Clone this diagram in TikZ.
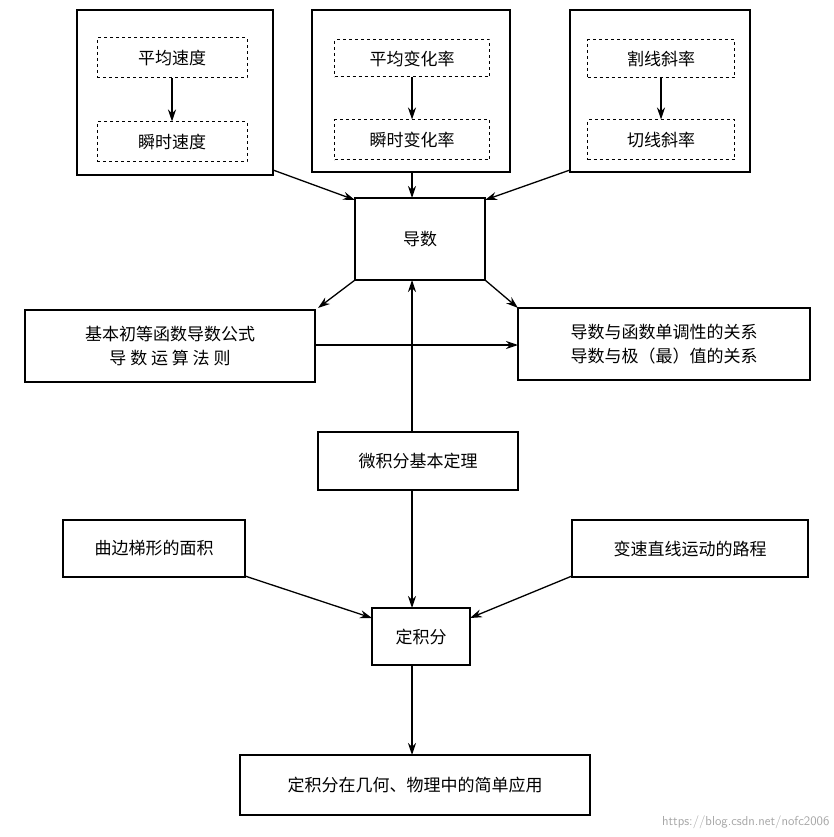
\documentclass[tikz,border=0pt]{standalone}
\usepackage{fontspec}
\newfontfamily\cjk{Noto Sans CJK SC}
\usetikzlibrary{arrows.meta}
\begin{document}
\begin{tikzpicture}[x=1pt,y=-1pt,
  bx/.style={draw,line width=1.3pt,font=\cjk\fontsize{17}{24}\selectfont,align=center,inner sep=0pt},
  dbx/.style={draw,dashed,line width=1pt,font=\cjk\fontsize{17}{22}\selectfont,inner sep=0pt},
  ar/.style={-{Stealth[length=12pt,width=8pt]},line width=1.3pt}]
\useasboundingbox[fill=white] (0,0) rectangle (833,837);
\node[bx,minimum width=196,minimum height=165] (o1) at (175,92.5) {};
\node[bx,minimum width=198,minimum height=162] (o2) at (411,91) {};
\node[bx,minimum width=180,minimum height=162] (o3) at (660,91) {};
\node[dbx,minimum width=150,minimum height=40] (a1) at (172,58) {平均速度};
\node[dbx,minimum width=150,minimum height=40] (b1) at (172,142) {瞬时速度};
\node[dbx,minimum width=155,minimum height=37] (a2) at (412,58.5) {平均变化率};
\node[dbx,minimum width=155,minimum height=40] (b2) at (412,140) {瞬时变化率};
\node[dbx,minimum width=147,minimum height=38] (a3) at (661,59) {割线斜率};
\node[dbx,minimum width=147,minimum height=40] (b3) at (661,140) {切线斜率};
\draw[ar] (a1)--(b1); \draw[ar] (a2)--(b2); \draw[ar] (a3)--(b3);
\node[bx,minimum width=130,minimum height=82] (d) at (420,239) {导数};
\node[bx,minimum width=290,minimum height=72] (l) at (170,346) {基本初等函数导数公式\\导\ 数\ 运\ 算\ 法\ 则};
\node[bx,minimum width=292,minimum height=72] (r) at (664,344) {导数与函数单调性的关系\\导数与极（最）值的关系};
\node[bx,minimum width=200,minimum height=58] (w) at (418,461) {微积分基本定理};
\node[bx,minimum width=182,minimum height=57] (q) at (154,548.5) {曲边梯形的面积};
\node[bx,minimum width=236,minimum height=57] (v) at (690,548.5) {变速直线运动的路程};
\node[bx,minimum width=98,minimum height=57] (j) at (421,636.5) {定积分};
\node[bx,minimum width=350,minimum height=60] (y) at (415,785) {定积分在几何、物理中的简单应用};
\draw[ar] (273,170)--(355,200);
\draw[ar] (412,172)--(412,198);
\draw[ar] (570,170)--(485,200);
\draw[ar] (355,280)--(318,308);
\draw[ar] (485,280)--(518,308);
\draw[ar] (315,345)--(518,345);
\draw[ar] (412,432)--(412,280);
\draw[ar] (412,490)--(412,608);
\draw[ar] (245,576)--(372,618);
\draw[ar] (572,576)--(470,618);
\draw[ar] (412,665)--(412,755);
\node[anchor=south east,font=\sffamily\fontsize{13}{15}\selectfont,text=black!35] (wm) at (833,832) {https://blog.csdn.net/nofc2006};
\end{tikzpicture}
\end{document}
